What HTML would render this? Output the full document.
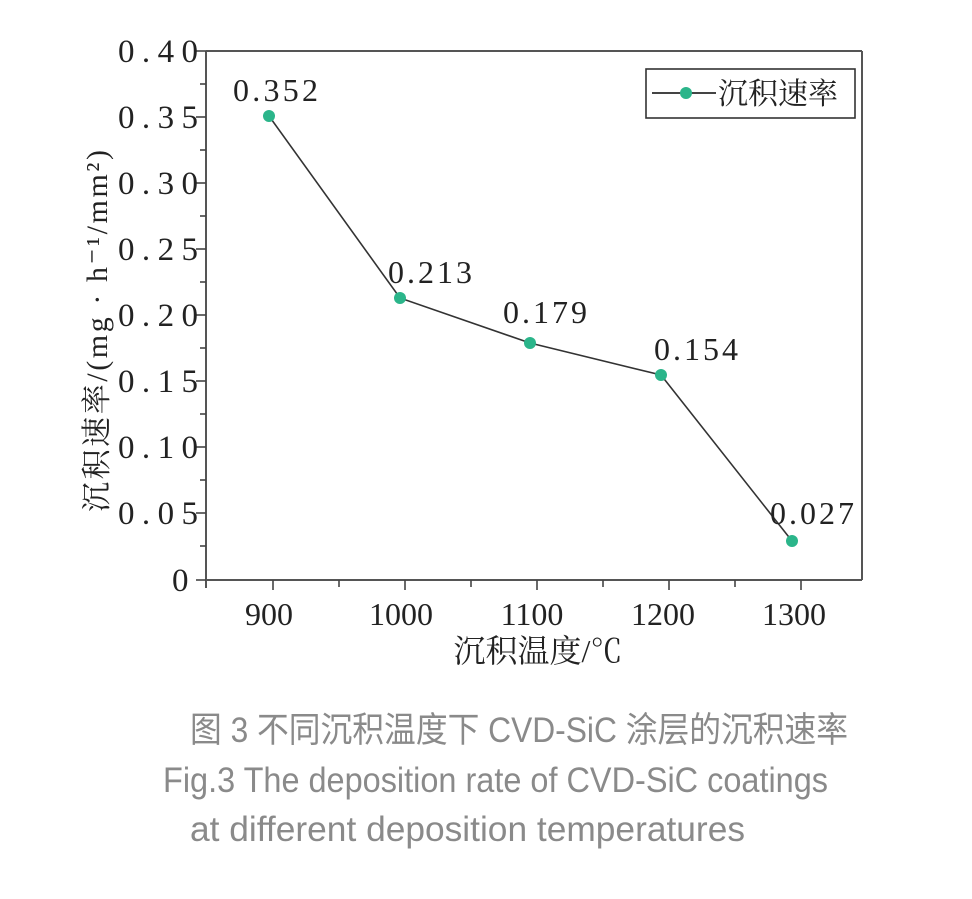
<!DOCTYPE html>
<html><head><meta charset="utf-8"><style>
body{margin:0;background:#fff;}
svg text{font-family:"Liberation Serif","Noto Serif CJK SC",serif;fill:#222;}
.cap{font-family:"Liberation Sans","Noto Sans CJK SC",sans-serif !important;fill:#8a8a8a !important;}
</style></head><body>
<svg width="972" height="894" viewBox="0 0 972 894" xmlns="http://www.w3.org/2000/svg">
<g stroke="#555" stroke-width="2" fill="none">
<line x1="206" y1="51" x2="862" y2="51"/>
<line x1="862" y1="51" x2="862" y2="580"/>
<line x1="206" y1="580" x2="862" y2="580"/>
<line x1="206" y1="51" x2="206" y2="588"/>
</g>
<g stroke="#444" stroke-width="1.6">
<line x1="196" y1="51" x2="206" y2="51"/><line x1="200" y1="84" x2="206" y2="84"/>
<line x1="196" y1="117" x2="206" y2="117"/><line x1="200" y1="150" x2="206" y2="150"/>
<line x1="196" y1="183" x2="206" y2="183"/><line x1="200" y1="216" x2="206" y2="216"/>
<line x1="196" y1="249" x2="206" y2="249"/><line x1="200" y1="282" x2="206" y2="282"/>
<line x1="196" y1="315" x2="206" y2="315"/><line x1="200" y1="348" x2="206" y2="348"/>
<line x1="196" y1="381" x2="206" y2="381"/><line x1="200" y1="414" x2="206" y2="414"/>
<line x1="196" y1="447" x2="206" y2="447"/><line x1="200" y1="480" x2="206" y2="480"/>
<line x1="196" y1="513" x2="206" y2="513"/><line x1="200" y1="546" x2="206" y2="546"/>
<line x1="196" y1="580" x2="206" y2="580"/>
<line x1="273" y1="580" x2="273" y2="590"/><line x1="339" y1="580" x2="339" y2="587"/>
<line x1="405" y1="580" x2="405" y2="590"/><line x1="471" y1="580" x2="471" y2="587"/>
<line x1="537" y1="580" x2="537" y2="590"/><line x1="603" y1="580" x2="603" y2="587"/>
<line x1="669" y1="580" x2="669" y2="590"/><line x1="735" y1="580" x2="735" y2="587"/>
<line x1="801" y1="580" x2="801" y2="590"/>
</g>
<g font-size="33">
<text x="118" y="62" textLength="80">0.40</text><text x="118" y="128" textLength="80">0.35</text><text x="118" y="194" textLength="80">0.30</text>
<text x="118" y="260" textLength="80">0.25</text><text x="118" y="326" textLength="80">0.20</text><text x="118" y="392" textLength="80">0.15</text>
<text x="118" y="458" textLength="80">0.10</text><text x="118" y="524" textLength="80">0.05</text><text x="172" y="591">0</text>
</g>
<g font-size="32" text-anchor="middle">
<text x="269" y="625">900</text><text x="401" y="625">1000</text><text x="532" y="625">1100</text>
<text x="663" y="625">1200</text><text x="794" y="625">1300</text>
<text x="538" y="662">沉积温度/℃</text>
</g>
<text transform="translate(107,512) rotate(-90)" font-size="30" textLength="362">沉积速率/(mg · h⁻¹/mm²)</text>
<polyline points="269,116 400,298 530,343 661,375 792,541" fill="none" stroke="#333" stroke-width="1.6"/>
<g fill="#2bb58a">
<circle cx="269" cy="116" r="6"/><circle cx="400" cy="298" r="6"/><circle cx="530" cy="343" r="6"/>
<circle cx="661" cy="375" r="6"/><circle cx="792" cy="541" r="6"/>
</g>
<g font-size="32">
<text x="233" y="101" textLength="85">0.352</text><text x="388" y="283" textLength="84">0.213</text><text x="503" y="323" textLength="84">0.179</text>
<text x="654" y="360" textLength="84">0.154</text><text x="770" y="524" textLength="84">0.027</text>
</g>
<rect x="646" y="69" width="209" height="49" fill="#fff" stroke="#333" stroke-width="1.6"/>
<line x1="652" y1="93" x2="716" y2="93" stroke="#444" stroke-width="2"/>
<circle cx="686" cy="93" r="6" fill="#2bb58a"/>
<text x="718" y="104" font-size="30">沉积速率</text>
<text class="cap" x="190" y="742" font-size="35" textLength="658" lengthAdjust="spacingAndGlyphs">图 3  不同沉积温度下 CVD-SiC 涂层的沉积速率</text>
<text class="cap" x="163" y="792" font-size="35" textLength="665" lengthAdjust="spacingAndGlyphs">Fig.3  The deposition rate of CVD-SiC coatings</text>
<text class="cap" x="190" y="841" font-size="35" textLength="555" lengthAdjust="spacingAndGlyphs">at different deposition temperatures</text>
</svg>
</body></html>
